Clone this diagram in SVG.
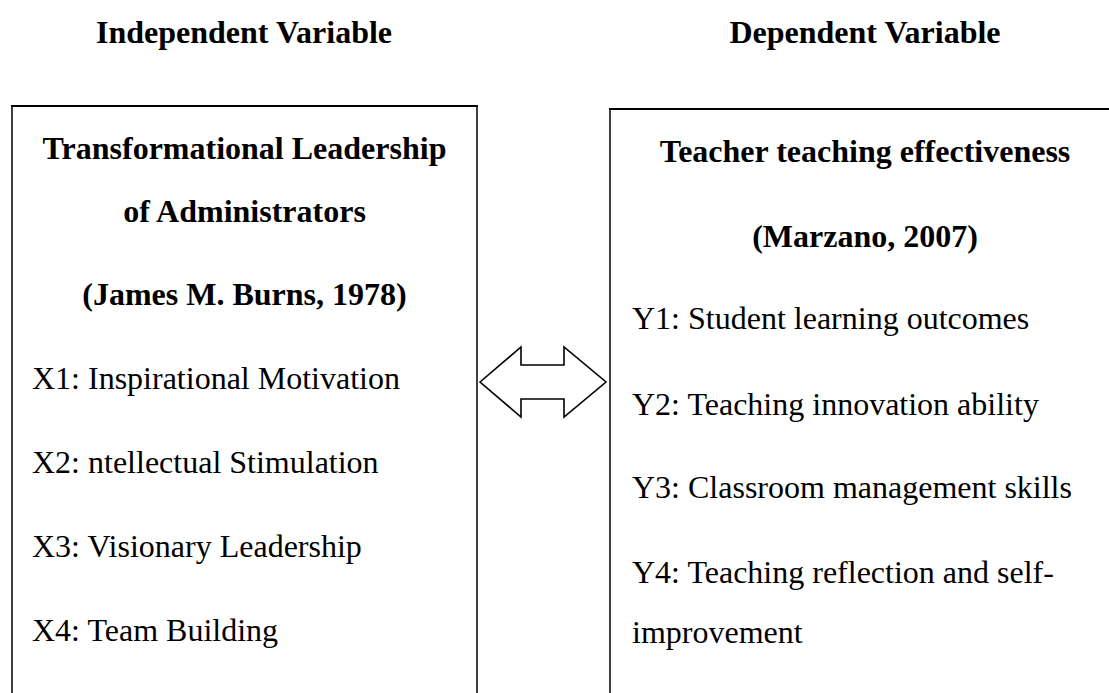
<svg xmlns="http://www.w3.org/2000/svg" width="1109" height="693" viewBox="0 0 1109 693">
  <style>
    text { font-family: "Liberation Serif", "Times New Roman", serif; font-size: 32px; fill: #000; }
    .b { font-weight: bold; }
    .c { text-anchor: middle; }
    .edge { fill: none; stroke: #000; stroke-width: 1.5; }
    .top { fill: none; stroke: #000; stroke-width: 2.2; }
    .arrow { fill: #fff; stroke: #000; stroke-width: 1.6; stroke-linejoin: miter; }
  </style>
  <rect width="1109" height="693" fill="#fff"/>

  <!-- column headings -->
  <g id="heading-independent">
    <text class="b c" x="244" y="43">Independent Variable</text>
  </g>
  <g id="heading-dependent">
    <text class="b c" x="865" y="43">Dependent Variable</text>
  </g>

  <!-- independent variable box (open at the bottom) -->
  <g id="node-independent">
    <path class="edge" d="M12,106 V700 M477,106 V700"/>
    <path class="top" d="M11,106 H478"/>
    <text class="b c" x="244.5" y="159">Transformational Leadership</text>
    <text class="b c" x="244.5" y="222">of Administrators</text>
    <text class="b c" x="244.5" y="305">(James M. Burns, 1978)</text>
    <text x="32" y="389">X1: Inspirational Motivation</text>
    <text x="32" y="473">X2: ntellectual Stimulation</text>
    <text x="32" y="557">X3: Visionary Leadership</text>
    <text x="32" y="641">X4: Team Building</text>
  </g>

  <!-- dependent variable box (runs past the right and bottom edges) -->
  <g id="node-dependent">
    <path class="edge" d="M610,109 V700"/>
    <path class="top" d="M609,109 H1120"/>
    <text class="b c" x="865" y="162">Teacher teaching effectiveness</text>
    <text class="b c" x="865" y="247">(Marzano, 2007)</text>
    <text x="632" y="329">Y1: Student learning outcomes</text>
    <text x="632" y="415">Y2: Teaching innovation ability</text>
    <text x="632" y="498">Y3: Classroom management skills</text>
    <text x="632" y="583">Y4: Teaching reflection and self-</text>
    <text x="632" y="643">improvement</text>
  </g>

  <!-- two-way relationship -->
  <g id="connectors">
    <polygon class="arrow" points="480,382 521,347 521,365 564,365 564,347 606,382 564,417 564,399 521,399 521,417"/>
  </g>
</svg>
